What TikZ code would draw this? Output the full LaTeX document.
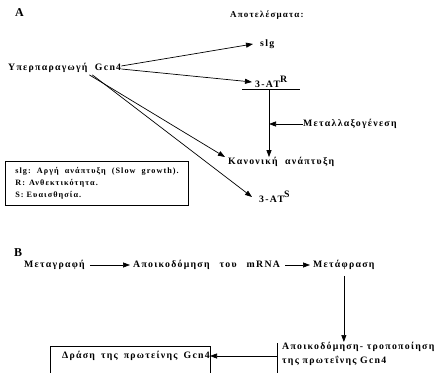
\documentclass[tikz,border=0pt]{standalone}
\usepackage{fontspec}
\setmainfont[LetterSpace=13]{Liberation Serif}
\usetikzlibrary{positioning, arrows.meta}
\newcommand{\gap}[1]{\hspace{#1pt}}

\begin{document}
\begin{tikzpicture}[x=1pt, y=-1pt,
    every node/.style={inner sep=0pt, anchor=west},
    lbl/.style={font=\bfseries\fontsize{9.8}{11}\selectfont},
    lblsmall/.style={font=\bfseries\fontsize{8.2}{12}\selectfont},
    panel/.style={font=\bfseries\fontsize{12}{14}\selectfont},
    arr/.style={-{Triangle[length=7pt, width=5pt]}, line width=0.7pt},
    bar/.style={line width=0.7pt}]
  \useasboundingbox (0,0) rectangle (436,372);

  % panel A
  \node[panel] (A) at (15,13) {A};
  \node[font=\bfseries\fontsize{9}{11}\selectfont] (results) at (230,15) {Αποτελέσματα:};
  \node[lbl] (over) at (8,68) {Υπερπαραγωγή\ \ Gcn4};
  \node[lbl] (slg) at (260,44) {slg};
  \node[lbl] (atr) at (255,82) {3-AT\raisebox{5pt}{R}};
  \coordinate (barl) at (242,89);
  \coordinate (barr) at (300,89);
  \coordinate (barm) at (269,89);
  \node[lbl] (mut) at (303,124) {Μεταλλαξογένεση};
  \node[lbl] (norm) at (228,162) {Κανονική\ \ ανάπτυξη};
  \node[lbl] (ats) at (259,197) {3-AT\raisebox{5pt}{S}};
  \node[draw, line width=0.7pt, anchor=north west, minimum width=183pt,
        minimum height=44pt, inner xsep=10pt, align=left, lblsmall,
        text width=163pt] (legend) at (5,161)
    {slg:\gap{6}Αργή\gap{6}ανάπτυξη\gap{6}(Slow\gap{6}growth).\\
     R:\gap{4}Ανθεκτικότητα.\\
     S:\gap{3}Ευαισθησία.};

  \draw[arr] ([yshift=2pt]over.east) -- ([xshift=-7pt]slg.west);
  \draw[arr] ([yshift=-1pt]over.east) -- ([xshift=-3pt]atr.west);
  \draw[bar] (barl) -- (barr);
  \draw[arr] (barm) -- (barm |- norm.north);
  \draw[arr] (mut.west) -- (barm |- mut.west);
  \draw[arr] ([xshift=-32pt, yshift=-2pt]over.south east) -- ([xshift=-3pt, yshift=5pt]norm.west);
  \draw[arr] ([xshift=-29pt, yshift=-2pt]over.south east) -- ([xshift=-7pt]ats.west);

  % panel B
  \node[panel] (B) at (14,253) {B};
  \node[lbl] (transcr) at (24,265) {Μεταγραφή};
  \node[lbl] (degr) at (133,265) {Αποικοδόμηση\gap{10}του\gap{10}mRNA};
  \node[lbl] (transl) at (313,265) {Μετάφραση};
  \node[lbl, anchor=north west, align=left] (modif) at (282,342)
    {Αποικοδόμηση- τροποποίηση\\[3pt] της πρωτεΐνης Gcn4};
  \node[lbl] (act) at (62,356) {Δράση\gap{6}της\gap{6}πρωτείνης\gap{6}Gcn4};
  \coordinate (modtop) at (277,343);
  \coordinate (modbot) at (277,373);
  \coordinate (boxtl) at (50,346);
  \coordinate (boxtr) at (210,346);

  \draw[arr] ([xshift=5pt]transcr.east) -- ([xshift=-3pt]degr.west);
  \draw[arr] ([xshift=5pt]degr.east) -- ([xshift=-3pt]transl.west);
  \draw[arr] ([yshift=-6pt]transl.south) -- (transl.south |- modif.north);
  \draw[bar] (modtop) -- (modbot);
  \draw[bar] (boxtl |- modbot) -- (boxtl) -- (boxtr) -- (boxtr |- modbot);
  \draw[arr] (modtop |- act.west) -- (boxtr |- act.west);
\end{tikzpicture}
\end{document}
